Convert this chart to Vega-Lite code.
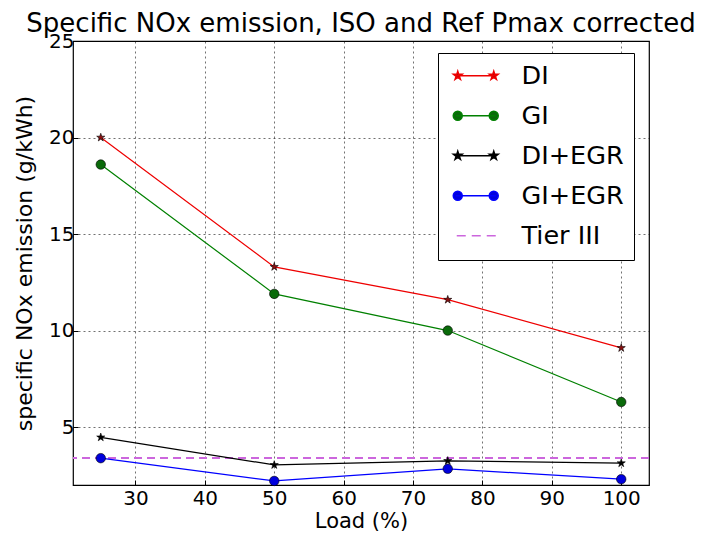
{
  "$schema": "https://vega.github.io/schema/vega-lite/v6.json",
  "width": 576,
  "height": 444,
  "autosize": {"type": "none"},
  "padding": {"left": 73, "top": 41, "right": 56, "bottom": 48},
  "background": "white",
  "title": {"text": "Specific NOx emission, ISO and Ref Pmax corrected", "fontSize": 26, "font": "DejaVu Sans", "fontWeight": "normal", "color": "#000", "anchor": "middle", "offset": -6},
  "config": {
    "view": {"stroke": "#000", "strokeWidth": 1.2},
    "axis": {"labelFont": "DejaVu Sans", "labelFontSize": 20, "labelColor": "#000", "titleFont": "DejaVu Sans", "titleFontWeight": "normal", "titleColor": "#000", "domain": false, "tickColor": "#000", "tickSize": -5, "grid": true, "gridColor": "#000", "gridDash": [2, 3], "gridOpacity": 0.7, "gridWidth": 0.8, "labelPadding": 4}
  },
  "datasets": {
    "series": [
      {"series": "DI", "load": 25, "nox": 20.0},
      {"series": "DI", "load": 50, "nox": 13.3},
      {"series": "DI", "load": 75, "nox": 11.6},
      {"series": "DI", "load": 100, "nox": 9.1},
      {"series": "GI", "load": 25, "nox": 18.6},
      {"series": "GI", "load": 50, "nox": 11.9},
      {"series": "GI", "load": 75, "nox": 10.0},
      {"series": "GI", "load": 100, "nox": 6.3},
      {"series": "DI+EGR", "load": 25, "nox": 4.47},
      {"series": "DI+EGR", "load": 50, "nox": 3.04},
      {"series": "DI+EGR", "load": 75, "nox": 3.25},
      {"series": "DI+EGR", "load": 100, "nox": 3.13},
      {"series": "GI+EGR", "load": 25, "nox": 3.39},
      {"series": "GI+EGR", "load": 50, "nox": 2.21},
      {"series": "GI+EGR", "load": 75, "nox": 2.84},
      {"series": "GI+EGR", "load": 100, "nox": 2.3}
    ],
    "tier": [{"series": "Tier III", "nox": 3.4}]
  },
  "layer": [
    {
      "data": {"name": "tier"},
      "mark": {"type": "rule", "strokeDash": [8, 5], "strokeWidth": 2},
      "encoding": {
        "y": {"field": "nox", "type": "quantitative", "title": "specific NOx emission (g/kWh)", "scale": {"domain": [2, 25], "nice": false, "zero": false}},
        "color": {"field": "series", "type": "nominal", "scale": {"domain": ["DI", "GI", "DI+EGR", "GI+EGR", "Tier III"], "range": ["#ee0000", "#008000", "#000000", "#0000ff", "#cc66dd"]}}
      }
    },
    {
      "data": {"name": "series"},
      "mark": {"type": "line", "strokeWidth": 1.2},
      "encoding": {
        "x": {"field": "load", "type": "quantitative", "title": "Load (%)", "scale": {"domain": [21, 104], "nice": false, "zero": false}, "axis": {"values": [30, 40, 50, 60, 70, 80, 90, 100], "labelPadding": 8, "titleFontSize": 21, "titlePadding": 2}},
        "y": {"field": "nox", "type": "quantitative", "title": "specific NOx emission (g/kWh)", "axis": {"values": [5, 10, 15, 20, 25], "titleFontSize": 22, "titlePadding": 12}},
        "color": {
          "field": "series", "type": "nominal",
          "legend": {
            "orient": "none", "legendX": 365, "legendY": 12, "title": null,
            "fillColor": "white", "strokeColor": "#000", "padding": 10,
            "labelFont": "DejaVu Sans", "labelFontSize": 25.5, "labelColor": "#000", "labelLimit": 300,
            "symbolSize": 400, "symbolOffset": 15, "labelOffset": 33, "rowPadding": 13, "symbolStrokeWidth": 1.5,
            "encode": {
              "symbols": {
                "update": {
                  "shape": {"signal": "(datum.value === 'DI' || datum.value === 'DI+EGR') ? 'M-2,0H2M-1.8,-0.45L-1.699,-0.139L-1.372,-0.139L-1.637,0.053L-1.535,0.364L-1.8,0.172L-2.065,0.364L-1.963,0.053L-2.228,-0.139L-1.901,-0.139ZM1.8,-0.45L1.901,-0.139L2.228,-0.139L1.963,0.053L2.065,0.364L1.8,0.172L1.535,0.364L1.637,0.053L1.372,-0.139L1.699,-0.139Z' : datum.value === 'Tier III' ? 'M-1.9,0H-1M-0.4,0H0.5M1.1,0H2' : 'M-2,0H2M-2.25,0A0.45,0.45 0 1,0 -1.35,0A0.45,0.45 0 1,0 -2.25,0ZM1.35,0A0.45,0.45 0 1,0 2.25,0A0.45,0.45 0 1,0 1.35,0Z'"},
                  "fill": {"signal": "datum.value === 'DI' ? '#8b1010' : datum.value === 'GI' ? '#0a6a0a' : datum.value === 'DI+EGR' ? '#000000' : datum.value === 'GI+EGR' ? '#0000dd' : 'transparent'"},
                  "strokeDash": {"value": []},
                  "size": {"value": 400},
                  "opacity": {"value": 1}
                }
              }
            }
          }
        }
      }
    },
    {
      "data": {"name": "series"},
      "mark": {"type": "point", "filled": true, "size": 90, "stroke": "#000", "strokeWidth": 0.6, "opacity": 1},
      "encoding": {
        "x": {"field": "load", "type": "quantitative", "title": "Load (%)"},
        "y": {"field": "nox", "type": "quantitative", "title": "specific NOx emission (g/kWh)"},
        "fill": {"field": "series", "type": "nominal", "legend": null, "scale": {"domain": ["DI", "GI", "DI+EGR", "GI+EGR"], "range": ["#8b1010", "#0a6a0a", "#000000", "#0000dd"]}},
        "shape": {"field": "series", "type": "nominal", "legend": null, "scale": {"domain": ["DI", "GI", "DI+EGR", "GI+EGR"], "range": ["M0,-0.9L0.203,-0.278L0.856,-0.278L0.327,0.106L0.529,0.728L0,0.344L-0.529,0.728L-0.327,0.106L-0.856,-0.278L-0.203,-0.278Z", "circle", "M0,-0.9L0.203,-0.278L0.856,-0.278L0.327,0.106L0.529,0.728L0,0.344L-0.529,0.728L-0.327,0.106L-0.856,-0.278L-0.203,-0.278Z", "circle"]}}
      }
    }
  ]
}
